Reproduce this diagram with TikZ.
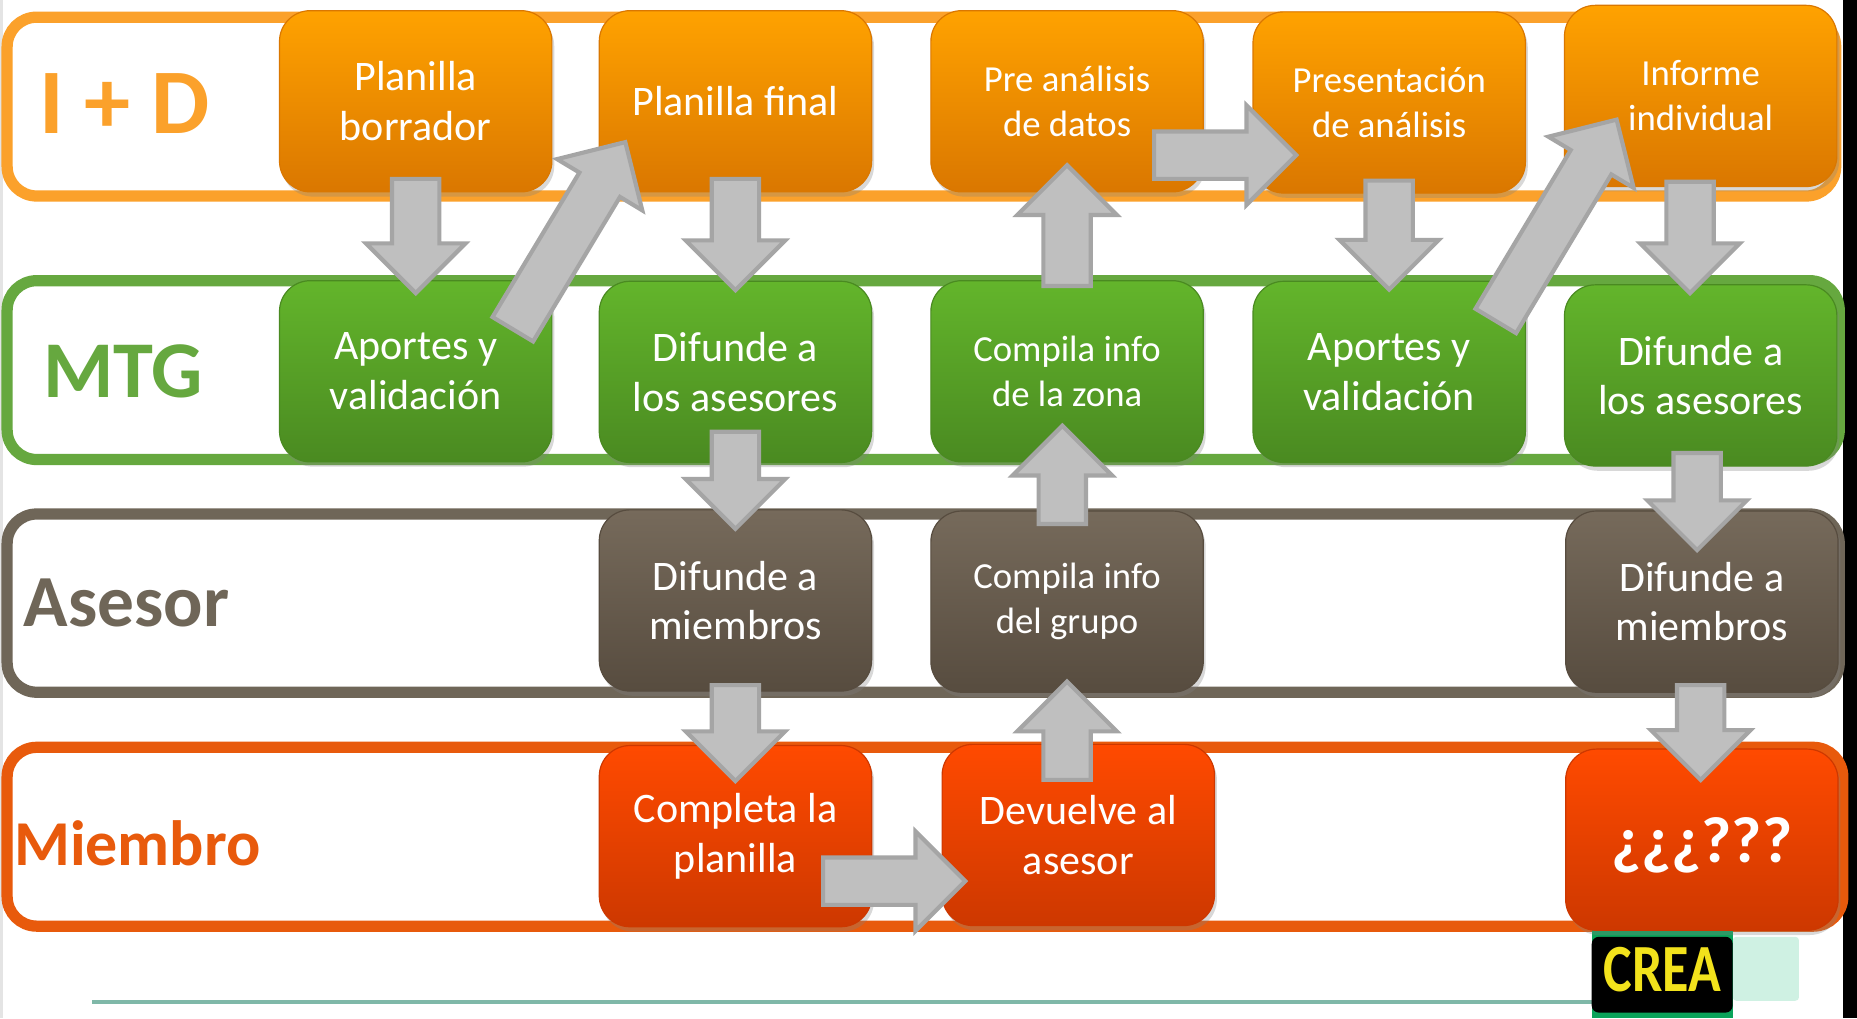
\documentclass[tikz,border=0pt]{standalone}
\usepackage{fontspec}
\setmainfont{Carlito}
\usetikzlibrary{calc,shadows}
\definecolor{cID}{HTML}{FBA12B}
\definecolor{cMTG}{HTML}{66A83F}
\definecolor{cAse}{HTML}{6F6658}
\definecolor{cMie}{HTML}{E85A0C}
\definecolor{oTop}{HTML}{FFA200}
\definecolor{oBot}{HTML}{DA7700}
\definecolor{gTop}{HTML}{63B52B}
\definecolor{gBot}{HTML}{4A8A21}
\definecolor{bTop}{HTML}{766A5B}
\definecolor{bBot}{HTML}{574C3F}
\definecolor{rTop}{HTML}{FF4A00}
\definecolor{rBot}{HTML}{CD3800}
\definecolor{arrFill}{HTML}{BFBFBF}
\definecolor{arrLine}{HTML}{A5A5A5}
\definecolor{ybar}{HTML}{FDE047}
\definecolor{leftline}{HTML}{E4E4E4}
\definecolor{teal}{HTML}{7FB8A8}
\definecolor{creaY}{HTML}{F2E21C}
\definecolor{creaG}{HTML}{0AA35A}
\definecolor{mint}{HTML}{C4EEDD}
\tikzset{
  lane/.style={line width=9.5pt, rounded corners=25pt},
  box/.style={rounded corners=26pt, minimum width=230pt, minimum height=153pt,
    text=white, align=center, inner sep=0pt, line width=1pt,
    font=\fontsize{35.5}{42}\selectfont,
    drop shadow={opacity=0.3, shadow xshift=2pt, shadow yshift=-4pt}},
  small/.style={font=\fontsize{31}{38}\selectfont},
  obox/.style={box, top color=oTop, bottom color=oBot, draw=oBot},
  gbox/.style={box, top color=gTop, bottom color=gBot, draw=gBot},
  bbox/.style={box, top color=bTop, bottom color=bBot, draw=bBot},
  rbox/.style={box, top color=rTop, bottom color=rBot, draw=rBot},
  barrow/.style={fill=arrFill, draw=arrLine, line width=3.5pt, line join=miter}
}
\newcommand\lanelab[5]{%
  \node[anchor=base, text=#4, font=\bfseries\fontsize{#3}{#3}\selectfont] (#1) at (#2) {#5};}
\newcommand\blockarrow[2]{%
  \coordinate (hb) at ($(#2)!42pt!(#1)$);
  \draw[barrow] ($(#1)!20pt!90:(#2)$) -- ($(hb)!20pt!90:(#2)$) -- ($(hb)!42pt!90:(#2)$)
    -- (#2) -- ($(hb)!42pt!-90:(#2)$) -- ($(hb)!20pt!-90:(#2)$) -- ($(#1)!20pt!-90:(#2)$) -- cycle;}
\begin{document}
\begin{tikzpicture}[x=1pt,y=-1pt]
\useasboundingbox (0,0) rectangle (1568,859.6);
\fill[white] (0,0) rectangle (1568,859.6);
\fill[leftline] (0,0) rectangle (2.5,859.6);
\fill[ybar] (1556,0) rectangle (1568,859.6);
% lanes
\draw[lane, draw=cID] (6,14.5) rectangle (1550,165.5);
\draw[lane, draw=cMTG] (6,237) rectangle (1553,388);
\draw[lane, draw=cAse] (6,434) rectangle (1553,584.5);
\draw[lane, draw=cMie] (6,631) rectangle (1556,782);
% lane labels
\lanelab{lID}{105,113}{78}{cID}{I + D}
\lanelab{lMTG}{104,336}{68}{cMTG}{MTG}
\lanelab{lAse}{107,529}{62}{cAse}{Asesor}
\lanelab{lMie}{116,730.6}{54}{cMie}{Miembro}
% bottom line and logo
\draw[teal, line width=3pt] (78,846) -- (1345,846);
\fill[mint, opacity=0.8, rounded corners=3pt] (1463,791) rectangle (1519,845);
\fill[creaG] (1344,784) rectangle (1463,859.6);
\fill[black, rounded corners=6pt] (1344,791) rectangle (1463,855);
\node[text=creaY, font=\bfseries\fontsize{57}{57}\selectfont, inner sep=0pt] (crea) at (1403.5,819) {\scalebox{0.8}[1]{CREA}};
% boxes
\node[obox] (b11) at (351,85.5) {Planilla\\borrador};
\node[obox] (b12) at (621,85.5) {Planilla final};
\node[obox, small] (b13) at (901,85.5) {Pre análisis\\de datos};
\node[obox, small] (b14) at (1173,86.5) {Presentación\\de análisis};
\node[obox, small] (b15) at (1436,81) {Informe\\individual};
\node[gbox] (b21) at (351,313.5) {Aportes y\\validación};
\node[gbox] (b22) at (621,314) {Difunde a\\los asesores};
\node[gbox, small] (b23) at (901,313.5) {Compila info\\de la zona};
\node[gbox] (b24) at (1173,314) {Aportes y\\validación};
\node[gbox] (b25) at (1436,317) {Difunde a\\los asesores};
\node[bbox] (b32) at (621,507) {Difunde a\\miembros};
\node[bbox, small] (b33) at (901,508) {Compila info\\del grupo};
\node[bbox] (b35) at (1437,508) {Difunde a\\miembros};
\node[rbox] (b42) at (621,706) {Completa la\\planilla};
\node[rbox] (b43) at (910.5,705) {Devuelve al\\asesor};
\node[rbox] (b45) at (1437,709) {};
\node[text=white, inner sep=0pt, font=\bfseries\fontsize{55}{60}\selectfont] (q45) at ([yshift=-5pt]b45.center) {¿¿¿???};
% arrow end points
\coordinate (a1s) at ([yshift=11.5pt]b11.south);
\coordinate (a1e) at ([yshift=-11pt]b21.north);
\coordinate (a2s) at ([xshift=82pt,yshift=35.5pt]b21.center);
\coordinate (a2e) at ([xshift=-93pt,yshift=-34.5pt]b12.center);
\coordinate (a3s) at ([yshift=11.5pt]b12.south);
\coordinate (a3e) at ([yshift=-8pt]b22.north);
\coordinate (a4s) at ([yshift=26.5pt]b22.south);
\coordinate (a4e) at ([yshift=-16.5pt]b32.north);
\coordinate (a5s) at ([yshift=5.5pt]b32.south);
\coordinate (a5e) at ([yshift=-30.5pt]b42.north);
\coordinate (a6s) at ([xshift=74pt,yshift=-38pt]b42.center);
\coordinate (a6e) at ([xshift=-95.5pt,yshift=-39pt]b43.center);
\coordinate (a7s) at ([xshift=-9.5pt,yshift=-30.5pt]b43.north);
\coordinate (a7e) at ([yshift=9.5pt]b33.south);
\coordinate (a8s) at ([xshift=-4pt,yshift=-11.5pt]b33.north);
\coordinate (a8e) at ([xshift=-4pt,yshift=31pt]b23.south);
\coordinate (a9s) at ([yshift=-5pt]b23.north);
\coordinate (a9e) at ([yshift=23pt]b13.south);
\coordinate (a10s) at ([xshift=-42pt,yshift=-45.5pt]b13.east);
\coordinate (a10e) at ([xshift=37pt,yshift=-44.5pt]b14.west);
\coordinate (a11s) at ([yshift=11pt]b14.south);
\coordinate (a11e) at ([yshift=-7.5pt]b24.north);
\coordinate (a12s) at ([xshift=90pt,yshift=43pt]b24.center);
\coordinate (a12e) at ([xshift=-71pt,yshift=-20pt]b15.center);
\coordinate (a13s) at ([xshift=-9pt,yshift=4.5pt]b15.south);
\coordinate (a13e) at ([xshift=-9pt,yshift=-7.5pt]b25.north);
\coordinate (a14s) at ([xshift=-3pt,yshift=11.5pt]b25.south);
\coordinate (a14e) at ([xshift=-4pt,yshift=-33.5pt]b35.north);
\coordinate (a15s) at ([xshift=-1pt,yshift=6.5pt]b35.south);
\coordinate (a15e) at ([xshift=-1pt,yshift=-26.5pt]b45.north);
% arrows
\blockarrow{a1s}{a1e}
\blockarrow{a2s}{a2e}
\blockarrow{a3s}{a3e}
\blockarrow{a4s}{a4e}
\blockarrow{a5s}{a5e}
\blockarrow{a6s}{a6e}
\blockarrow{a7s}{a7e}
\blockarrow{a8s}{a8e}
\blockarrow{a9s}{a9e}
\blockarrow{a10s}{a10e}
\blockarrow{a11s}{a11e}
\blockarrow{a12s}{a12e}
\blockarrow{a13s}{a13e}
\blockarrow{a14s}{a14e}
\blockarrow{a15s}{a15e}
\end{tikzpicture}
\end{document}
